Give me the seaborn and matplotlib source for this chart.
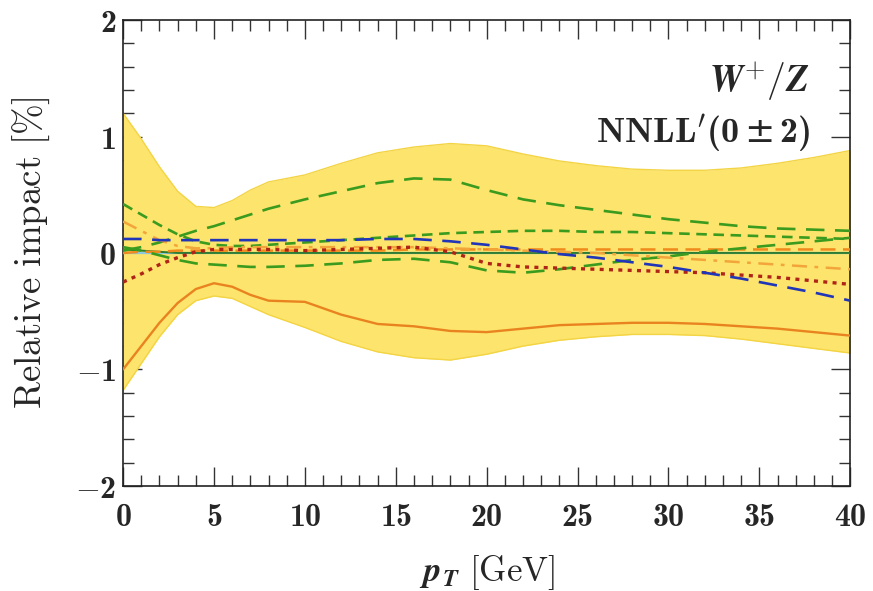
import numpy as np
import pandas as pd
import matplotlib
matplotlib.use("Agg")
import matplotlib.pyplot as plt
import seaborn as sns
from matplotlib.ticker import MultipleLocator, FuncFormatter

# transverse-momentum grid [GeV]
pt = [0, 1, 2, 3, 4, 5, 6, 7, 8, 10, 12, 14, 16, 18, 20,
      22, 24, 26, 28, 30, 32, 34, 36, 38, 40]

# total uncertainty envelope [%]
band_hi = [1.20, 0.98, 0.74, 0.53, 0.40, 0.39, 0.45, 0.54, 0.61, 0.67, 0.77, 0.86,
           0.91, 0.94, 0.92, 0.85, 0.79, 0.75, 0.72, 0.71, 0.71, 0.73, 0.77, 0.82, 0.88]
band_lo = [-1.18, -0.95, -0.72, -0.53, -0.41, -0.37, -0.39, -0.46, -0.53, -0.64, -0.76, -0.85,
           -0.90, -0.92, -0.87, -0.80, -0.75, -0.72, -0.70, -0.70, -0.71, -0.74, -0.78, -0.82, -0.86]

# individual variations [%]
orange_solid = [-1.00, -0.80, -0.60, -0.43, -0.31, -0.26, -0.29, -0.36, -0.41, -0.42, -0.53, -0.61,
                -0.63, -0.67, -0.68, -0.65, -0.62, -0.61, -0.60, -0.60, -0.61, -0.63, -0.65, -0.68, -0.71]
green_up = [0.02, 0.05, 0.09, 0.14, 0.19, 0.23, 0.28, 0.33, 0.38, 0.46, 0.53, 0.60,
            0.64, 0.63, 0.54, 0.46, 0.41, 0.37, 0.33, 0.29, 0.26, 0.23, 0.21, 0.20, 0.19]
green_mid = [0.42, 0.33, 0.24, 0.16, 0.10, 0.07, 0.06, 0.06, 0.07, 0.09, 0.11, 0.13,
             0.15, 0.17, 0.18, 0.19, 0.19, 0.18, 0.18, 0.17, 0.16, 0.15, 0.14, 0.13, 0.12]
green_low = [0.05, 0.02, -0.02, -0.06, -0.09, -0.10, -0.11, -0.12, -0.12, -0.11, -0.09, -0.06,
             -0.05, -0.08, -0.15, -0.17, -0.14, -0.10, -0.06, -0.03, 0.01, 0.04, 0.07, 0.10, 0.13]
green_solid = [0.03, 0.02, 0.01, 0.00, 0.00, 0.00, 0.00, 0.00, 0.00, 0.00, 0.00, 0.00,
               0.00, 0.00, 0.00, 0.00, 0.00, 0.00, 0.00, 0.00, 0.00, 0.00, 0.00, 0.00, 0.00]
blue_dash = [0.12, 0.12, 0.11, 0.11, 0.11, 0.11, 0.11, 0.11, 0.11, 0.11, 0.11, 0.12,
             0.12, 0.10, 0.07, 0.03, -0.01, -0.04, -0.08, -0.12, -0.17, -0.22, -0.28, -0.34, -0.41]
red_dot = [-0.25, -0.18, -0.10, -0.04, 0.01, 0.03, 0.03, 0.03, 0.03, 0.02, 0.03, 0.04,
           0.05, 0.01, -0.09, -0.12, -0.13, -0.14, -0.15, -0.16, -0.17, -0.19, -0.21, -0.24, -0.27]
orange_dashdot = [0.27, 0.19, 0.11, 0.06, 0.04, 0.04, 0.05, 0.05, 0.05, 0.05, 0.05, 0.05,
                  0.05, 0.04, 0.03, 0.02, 0.01, 0.00, -0.02, -0.04, -0.06, -0.08, -0.10, -0.12, -0.14]
orange_dash = [0.00, 0.01, 0.01, 0.02, 0.02, 0.02, 0.02, 0.02, 0.02, 0.02, 0.02, 0.02,
               0.03, 0.03, 0.03, 0.03, 0.03, 0.03, 0.03, 0.03, 0.03, 0.03, 0.03, 0.03, 0.03]

x_ticks = [0, 5, 10, 15, 20, 25, 30, 35, 40]
y_ticks = [-2, -1, 0, 1, 2]

sns.set_theme(style="ticks")
plt.rcParams.update({
    "font.family": ["DejaVu Serif"],
    "mathtext.fontset": "custom",
    "mathtext.rm": "cmr10",
    "mathtext.it": "cmmi10",
    "mathtext.bf": "cmb10",
    "mathtext.sf": "DejaVu Serif",
    "mathtext.bfit": "STIXGeneral:italic:bold",
    "mathtext.fallback": "cm",
})

fig = plt.figure(figsize=(8.73, 5.91), dpi=100)
ax = fig.add_axes([0.141, 0.178, 0.833, 0.788])

band_col = "#FDE46C"
edge_col = "#F3D444"
ax.fill_between(pt, band_lo, band_hi, color=band_col, lw=0, zorder=1)
sns.lineplot(x=pt, y=band_hi, ax=ax, color=edge_col, lw=1.0, zorder=2)
sns.lineplot(x=pt, y=band_lo, ax=ax, color=edge_col, lw=1.0, zorder=2)

ax.axhline(0, color="#8CC8E0", lw=1.6, zorder=3)

curves = [
    (green_solid, "#2E7D32", "-", 1.4),
    (orange_dash, "#F08A1C", (0, (6, 3)), 1.8),
    (green_low, "#3A9B1E", (0, (7, 4)), 1.9),
    (green_mid, "#3A9B1E", (0, (4, 2.5)), 1.9),
    (green_up, "#3A9B1E", (0, (7, 4)), 1.9),
    (orange_dashdot, "#F2A53A", (0, (6, 3, 1.5, 3)), 1.8),
    (red_dot, "#B02418", (0, (1.2, 1.6)), 2.4),
    (blue_dash, "#2035B8", (0, (7, 4)), 1.9),
    (orange_solid, "#E98320", "-", 1.7),
]
for vals, col, ls, lw in curves:
    sns.lineplot(x=pt, y=vals, ax=ax, color=col, linestyle=ls, lw=lw, zorder=4)

ax.set_xlim(0, 40)
ax.set_ylim(-2, 2)
ax.set_xticks(x_ticks)
ax.set_yticks(y_ticks)
ax.xaxis.set_minor_locator(MultipleLocator(1))
ax.yaxis.set_minor_locator(MultipleLocator(0.2))
fmt = FuncFormatter(lambda v, p: r"$\mathbf{%d}$" % int(round(v)))
ax.xaxis.set_major_formatter(fmt)
ax.yaxis.set_major_formatter(fmt)
ax.tick_params(which="both", direction="in", top=True, right=True,
               color="#333333", width=1.0)
ax.tick_params(which="major", length=14)
ax.tick_params(which="minor", length=8)
ax.tick_params(axis="x", which="major", labelsize=23, pad=12)
ax.tick_params(axis="y", which="major", labelsize=23, pad=5)
for s in ax.spines.values():
    s.set_color("#222222")
    s.set_linewidth(1.2)

ax.set_xlabel(r"$\mathbfit{p}_{\mathbfit{T}}\ \mathrm{[GeV]}$", fontsize=25)
ax.set_ylabel(r"$\mathrm{Relative\ impact\ [\%]}$", fontsize=26.5)
ax.xaxis.set_label_coords(0.5, -0.145)
ax.yaxis.set_label_coords(-0.098, 0.5)

ax.text(0.944, 0.868, r"$\mathbfit{W}^{+}/\mathbfit{Z}$", transform=ax.transAxes,
        ha="right", va="center", fontsize=27, zorder=6)
ax.text(0.945, 0.757, r"$\mathbf{NNLL}^{\prime}\mathbf{(0}\,\mathsf{\pm}\,\mathbf{2)}$",
        transform=ax.transAxes, ha="right", va="center", fontsize=26, zorder=6)

fig.savefig("out.png", dpi=100)
